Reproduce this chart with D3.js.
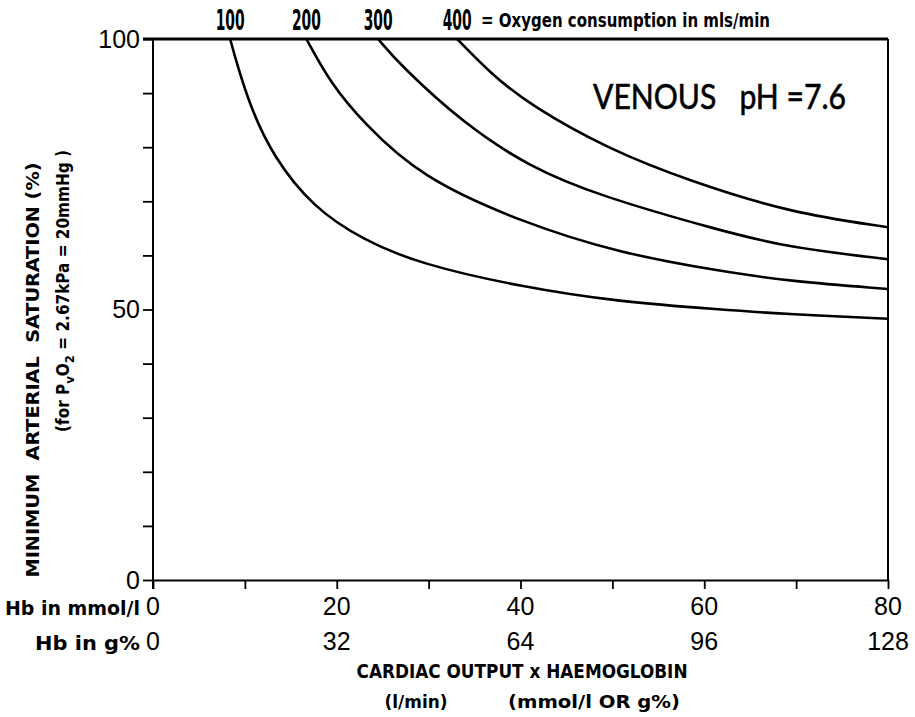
<!DOCTYPE html>
<html>
<head>
<meta charset="utf-8">
<script src="https://cdn.jsdelivr.net/npm/d3@7/dist/d3.min.js"></script>
<style>
  html, body { margin: 0; padding: 0; background: #fff; }
  svg { display: block; }
</style>
</head>
<body>
<script>
// Oxygen consumption (ml/min) for each curve
const consumption = [100, 200, 300, 400];

// Cardiac output x haemoglobin (mmol/l) and minimum arterial saturation (%) along each curve
const x100 = [8.4, 9.1, 10.6, 13.1, 17.4, 22.9, 29.1, 40.0, 50.8, 61.7, 69.3, 80];
const s100 = [100, 95.6, 87.4, 78.2, 68.9, 62.8, 58.4, 54.2, 51.4, 50.0, 49.1, 48.3];

const x200 = [16.7, 19.3, 22.9, 29.1, 40.0, 50.8, 61.7, 69.3, 80];
const s200 = [100, 91.9, 84.5, 74.5, 66.2, 60.4, 57.1, 55.2, 53.8];

const x300 = [24.5, 26.9, 33.7, 41.0, 48.6, 61.7, 69.3, 80];
const s300 = [100, 95.2, 84.5, 76.3, 71.0, 64.6, 61.4, 59.3];

const x400 = [33.1, 36.7, 41.0, 49.7, 58.5, 69.3, 80];
const s400 = [100, 93.7, 87.8, 79.5, 73.7, 67.9, 65.2];

// Axis ticks and labels
const yTicks = [0, 10, 20, 30, 40, 50, 60, 70, 80, 90, 100];
const yLabels = [0, 50, 100];
const xTicks = [0, 10, 20, 30, 40, 50, 60, 70, 80];
const mmolLabels = [0, 20, 40, 60, 80];
const gPctLabels = ["0", "32", "64", "96", "128"];

const W = 915, H = 717;
const COND = "'Liberation Sans Narrow', 'DejaVu Sans Condensed', 'DejaVu Sans', sans-serif";
const PLAIN = "'Liberation Sans', Arial, sans-serif";

const svg = d3.select("body").append("svg").attr("width", W).attr("height", H);

const x = d3.scaleLinear().domain([0, 80]).range([153, 888]);
const y = d3.scaleLinear().domain([0, 100]).range([580, 39]);

// Condensed bold label squeezed to a set width
function condText(sel, str, cx, cy, size, len, anchor) {
  return sel.append("text")
    .attr("x", cx).attr("y", cy)
    .attr("text-anchor", anchor || "middle")
    .attr("font-family", COND).attr("font-weight", "bold")
    .attr("font-size", size)
    .attr("textLength", len).attr("lengthAdjust", "spacingAndGlyphs")
    .text(str);
}

// Left axis: ticks every 10 %, labels at 0, 50, 100
const yAxis = d3.axisLeft(y)
  .tickValues(yTicks)
  .tickSize(10)
  .tickSizeOuter(0)
  .tickPadding(3)
  .tickFormat(d => yLabels.includes(d) ? d : "");
const gy = svg.append("g").attr("transform", `translate(${x(0)},0)`).call(yAxis);
gy.select(".domain").attr("stroke-width", 2).attr("d", `M0,${y(100)}V${y(0) + 9}`);
gy.selectAll(".tick line").attr("stroke-width", 1.8);
gy.selectAll(".tick text").attr("font-family", PLAIN).attr("font-size", 25).attr("fill", "#000");

// Bottom axis: ticks every 10; labels are drawn as two rows below
const xAxis = d3.axisBottom(x).tickValues(xTicks).tickSize(9).tickSizeOuter(0).tickFormat("");
const gx = svg.append("g").attr("transform", `translate(0,${y(0)})`).call(xAxis);
gx.select(".domain").attr("stroke-width", 2);
gx.selectAll(".tick line").attr("stroke-width", 1.8);

// Frame: top and right edges
svg.append("line").attr("x1", x(0) - 10).attr("x2", x(80)).attr("y1", y(100)).attr("y2", y(100))
  .attr("stroke", "#000").attr("stroke-width", 2.8);
svg.append("line").attr("x1", x(80)).attr("x2", x(80)).attr("y1", y(100)).attr("y2", y(0))
  .attr("stroke", "#000").attr("stroke-width", 2);

// Curves
const series = [
  { q: consumption[0], xs: x100, ss: s100 },
  { q: consumption[1], xs: x200, ss: s200 },
  { q: consumption[2], xs: x300, ss: s300 },
  { q: consumption[3], xs: x400, ss: s400 }
];
const line = d3.line().x(d => x(d[0])).y(d => y(d[1])).curve(d3.curveBasis);
svg.append("g").selectAll("path").data(series).join("path")
  .attr("d", s => line(s.xs.map((v, i) => [v, s.ss[i]])))
  .attr("fill", "none").attr("stroke", "#000").attr("stroke-width", 2.6)
  .attr("stroke-linejoin", "round");

// Consumption labels above each curve start (condensed by horizontal scaling)
const topG = svg.append("g");
series.forEach(s => {
  topG.append("g")
    .attr("transform", `translate(${x(s.xs[0])},30) scale(0.55,1)`)
    .append("text")
    .attr("text-anchor", "middle")
    .attr("font-family", COND).attr("font-weight", "bold").attr("font-size", 28)
    .text(s.q);
});
condText(topG, "= Oxygen consumption in mls/min", 481, 27, 20, 289, "start");

// Panel title
svg.append("text").attr("x", 593).attr("y", 109)
  .attr("font-family", "Lato, 'Open Sans', sans-serif")
  .attr("font-size", 35).attr("fill", "#000")
  .attr("stroke", "#000").attr("stroke-width", 0.6)
  .attr("textLength", 253).attr("lengthAdjust", "spacingAndGlyphs")
  .attr("xml:space", "preserve")
  .text("VENOUS   pH =7.6");

// Bottom tick label rows
const rows = svg.append("g");
condText(rows, "Hb in mmol/l", 140, 615, 20, 135, "end");
condText(rows, "Hb in g%", 140, 650, 20, 105, "end");
rows.selectAll(".mm").data(mmolLabels).join("text").attr("class", "mm")
  .attr("x", d => x(d)).attr("y", 615).attr("text-anchor", "middle")
  .attr("font-family", PLAIN).attr("font-size", 25)
  .text(d => d);
rows.selectAll(".gp").data(gPctLabels).join("text").attr("class", "gp")
  .attr("x", (d, i) => x(mmolLabels[i])).attr("y", 650).attr("text-anchor", "middle")
  .attr("font-family", PLAIN).attr("font-size", 25)
  .text(d => d);

// X title
condText(svg, "CARDIAC OUTPUT x HAEMOGLOBIN", 522, 678, 19, 331);
condText(svg, "(l/min)", 416, 708, 18, 63);
condText(svg, "(mmol/l OR g%)", 594, 708, 18, 172);

// Y title (two rotated lines)
svg.append("g").attr("transform", "translate(39,370) rotate(-90)")
  .call(g => condText(g, "MINIMUM  ARTERIAL  SATURATION (%)", 0, 0, 18, 415).attr("xml:space", "preserve"));
const sub = svg.append("text")
  .attr("transform", "translate(69,291) rotate(-90)")
  .attr("text-anchor", "middle")
  .attr("font-family", COND).attr("font-weight", "bold").attr("font-size", 17)
  .attr("textLength", 282).attr("lengthAdjust", "spacingAndGlyphs")
  .attr("xml:space", "preserve");
sub.append("tspan").text("(for P");
sub.append("tspan").attr("font-size", 13).attr("dy", 5).text("v");
sub.append("tspan").attr("dy", -5).text("O");
sub.append("tspan").attr("font-size", 13).attr("dy", 5).text("2");
sub.append("tspan").attr("dy", -5).text(" = 2.67kPa = 20mmHg )");
</script>
</body>
</html>
